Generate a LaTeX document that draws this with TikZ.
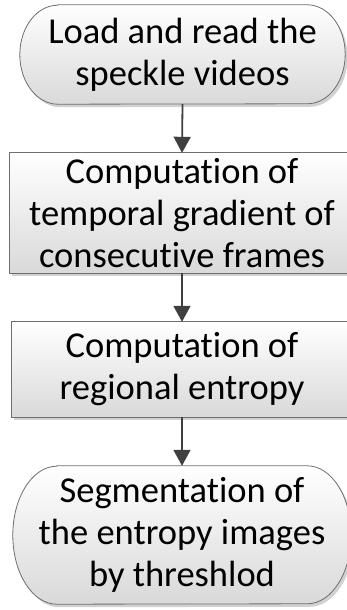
\documentclass[tikz,border=0pt]{standalone}
\usepackage{fontspec}
\setmainfont[Ligatures={NoCommon}]{Carlito}
\usetikzlibrary{arrows.meta,shadows,backgrounds}

\definecolor{boxbottom}{HTML}{D9D9D9}
\definecolor{edgegray}{HTML}{6E6E6E}
\definecolor{arrowgray}{HTML}{404040}

% terminator outline with elliptical ends around node #1 (x radius #2, height \ry)
\newcommand\terminatorpath[2]{%
  ([xshift=#2]#1.north west) -- ([xshift=-#2]#1.north east)
  arc[start angle=90, end angle=-90, x radius=#2, y radius=0.5*\ry]
  -- ([xshift=#2]#1.south west)
  arc[start angle=270, end angle=90, x radius=#2, y radius=0.5*\ry] -- cycle}

\begin{document}
\begin{tikzpicture}[x=1pt, y=1pt,
  txt/.style={font=\fontsize{36.5}{42}\selectfont, align=center, inner sep=0pt},
  boxstyle/.style={top color=white, bottom color=boxbottom, draw=edgegray, line width=0.8pt,
    drop shadow={shadow xshift=2.5pt, shadow yshift=-3pt, opacity=0.18, fill=black}},
  flow/.style={draw=arrowgray, line width=1.8pt, -{Triangle[width=17pt, length=16pt]}}]
\useasboundingbox (0,0) rectangle (347,-610);
\clip (0,0) rectangle (347,-610);

% step nodes (text and extent of each box)
\node[txt, minimum width=325pt, minimum height=99pt] (load) at (182.5,-54.5)
  {Load and read the\\speckle videos};
\node[txt, minimum width=344pt, minimum height=120pt] (grad) at (182,-213)
  {Computation of\\temporal gradient of\\consecutive frames};
\node[txt, minimum width=340pt, minimum height=95pt] (entr) at (182,-369.5)
  {Computation of\\regional entropy};
\node[txt, minimum width=338pt, minimum height=138pt] (segm) at (182,-535)
  {Segmentation of\\the entropy images\\by threshlod};

% box outlines behind the text
\begin{scope}[on background layer]
\def\ry{99pt}
\path[boxstyle] \terminatorpath{load}{38pt};
\path[boxstyle] (grad.north west) rectangle (grad.south east);
\path[boxstyle] (entr.north west) rectangle (entr.south east);
\def\ry{138pt}
\path[boxstyle] \terminatorpath{segm}{44pt};
\end{scope}

% connectors
\draw[flow] (load.south) -- (grad.north);
\draw[flow] (grad.south) -- (entr.north);
\draw[flow] (entr.south) -- (segm.north);
\end{tikzpicture}
\end{document}
